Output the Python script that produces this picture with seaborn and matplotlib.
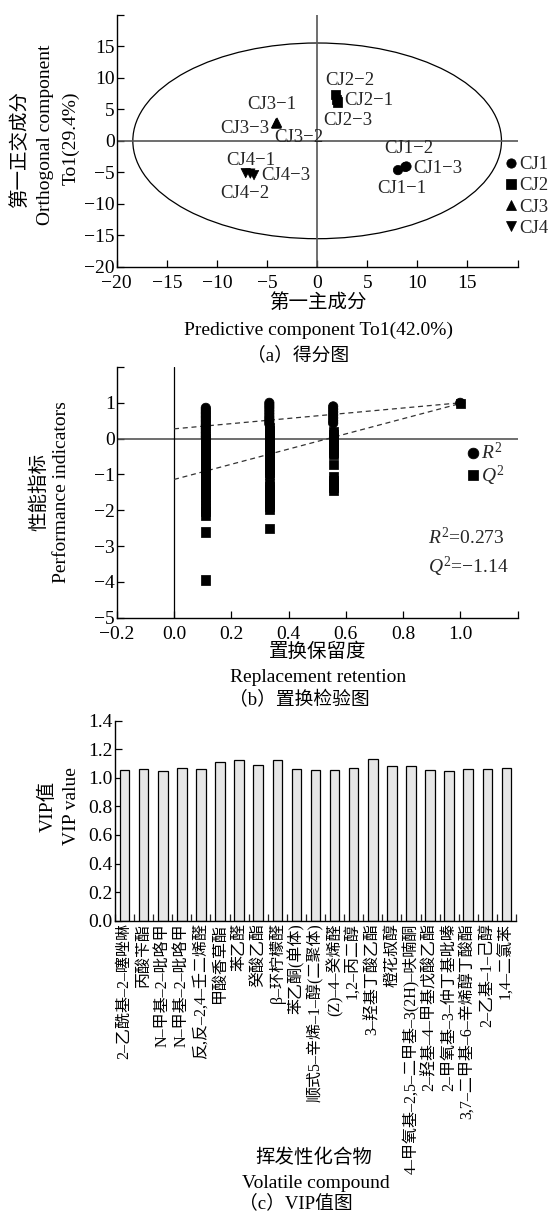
import numpy as np
import pandas as pd
import matplotlib
matplotlib.use("Agg")
import matplotlib.pyplot as plt
from matplotlib.patches import Ellipse
import seaborn as sns

# ---------------- data ----------------
# (a) OPLS-DA score plot
score_group = ["CJ1", "CJ1", "CJ1", "CJ2", "CJ2", "CJ2", "CJ3", "CJ3", "CJ3", "CJ4", "CJ4", "CJ4"]
score_name = ["CJ1−1", "CJ1−3", "CJ1−2", "CJ2−2", "CJ2−1", "CJ2−3",
              "CJ3−1", "CJ3−2", "CJ3−3", "CJ4−1", "CJ4−3", "CJ4−2"]
score_t1 = [8.07, 8.92, 8.80, 1.83, 1.95, 2.00, -4.10, -4.00, -4.05, -7.13, -6.30, -6.67]
score_to1 = [-4.65, -4.07, -4.15, 7.37, 6.60, 6.19, 2.80, 2.90, 2.75, -5.13, -5.45, -5.20]
t2_width, t2_height = 36.8, 31.1

# (b) permutation test
perm_ret_r2 = [0.111] * 16 + [0.333] * 9 + [0.556] * 7 + [1.0]
perm_r2 = [0.86, 0.80, 0.74, 0.69, 0.63, 0.58, 0.52, 0.47, 0.41, 0.36, 0.30, 0.25, 0.19, 0.14, 0.08, 0.03,
           1.00, 0.93, 0.86, 0.78, 0.70, 0.62, 0.55, 0.48, 0.41,
           0.90, 0.82, 0.74, 0.66, 0.58, 0.50, 0.43,
           1.00]
perm_ret_q2 = [0.111] * 27 + [0.333] * 28 + [0.556] * 15 + [1.0]
perm_q2 = [0.00, -0.08, -0.17, -0.25, -0.34, -0.42, -0.51, -0.59, -0.68, -0.76, -0.85, -0.93, -1.02,
           -1.10, -1.19, -1.27, -1.36, -1.44, -1.53, -1.61, -1.70, -1.86, -1.95, -2.04, -2.14, -2.61, -3.95,
           0.30, 0.22, 0.14, 0.06, -0.03, -0.11, -0.19, -0.27, -0.36, -0.44, -0.52, -0.60, -0.68, -0.77,
           -0.85, -0.93, -1.01, -1.26, -1.34, -1.42, -1.50, -1.58, -1.66, -1.74, -1.82, -1.90, -1.97, -2.50,
           0.20, 0.12, 0.04, -0.05, -0.13, -0.21, -0.29, -0.37, -0.45, -0.72, -1.07, -1.17, -1.27, -1.36, -1.43,
           0.98]
r2_intercept, q2_intercept = 0.273, -1.14

# (c) VIP values
compounds = ["2–乙酰基–2–噻唑啉", "丙酸苄酯", "N–甲基–2–吡咯甲", "N–甲基–2–吡咯甲",
             "反,反–2,4–壬二烯醛", "甲酸香草酯", "苯乙醛", "癸酸乙酯", "β–环柠檬醛",
             "苯乙酮(单体)", "顺式5–辛烯–1–醇(二聚体)", "(Z)–4–癸烯醛", "1,2–丙二醇",
             "3–羟基丁酸乙酯", "橙花叔醇", "4–甲氧基–2,5–二甲基–3(2H)–呋喃酮",
             "2–羟基–4–甲基戊酸乙酯", "2–甲氧基–3–仲丁基吡嗪", "3,7–二甲基–6–辛烯醇丁酸酯",
             "2–乙基–1–己醇", "1,4–二氯苯"]
vip = [1.055, 1.059, 1.048, 1.071, 1.059, 1.108, 1.122, 1.092, 1.127, 1.064, 1.055,
       1.055, 1.069, 1.132, 1.085, 1.085, 1.052, 1.050, 1.062, 1.064, 1.069]

# ---------------- style ----------------
sns.set_theme(style="white")
FAM = ["Liberation Serif", "Noto Sans CJK SC"]
plt.rcParams["font.family"] = FAM
plt.rcParams["mathtext.fontset"] = "custom"
plt.rcParams["mathtext.rm"] = "Liberation Serif"
plt.rcParams["mathtext.it"] = "Liberation Serif:italic"
plt.rcParams["axes.unicode_minus"] = True

W, H = 555, 1221
fig = plt.figure(figsize=(W / 100, H / 100), dpi=100)


def box(l, t, r, b):
    return [l / W, 1 - b / H, (r - l) / W, (b - t) / H]


def ftext(x, y, s, size=14, rot=0):
    fig.text(x / W, 1 - y / H, s, fontsize=size, rotation=rot, ha="center", va="center",
             family=FAM, color="black")


def style_axes(ax, xpad=4):
    sns.despine(ax=ax)
    for s in ["left", "bottom"]:
        ax.spines[s].set_color("black")
        ax.spines[s].set_linewidth(1.0)
    ax.tick_params(direction="in", length=5, width=0.9, colors="black", labelsize=14,
                   left=True, bottom=True)
    ax.tick_params(axis="y", pad=1.5)
    ax.tick_params(axis="x", pad=xpad)


# ---------------- (a) ----------------
ax1 = fig.add_axes(box(116.8, 15, 517.5, 266.7))
df_a = pd.DataFrame({"t1": score_t1, "to1": score_to1, "group": score_group})
sns.scatterplot(data=df_a, x="t1", y="to1", style="group",
                markers={"CJ1": "o", "CJ2": "s", "CJ3": "^", "CJ4": "v"},
                color="black", edgecolor="black", s=45, ax=ax1, zorder=3)
ax1.add_patch(Ellipse((0, 0), t2_width, t2_height, fill=False, ec="black", lw=0.9))
ax1.axhline(0, color="#555555", lw=1.2, zorder=1)
ax1.axvline(0, color="#555555", lw=1.2, zorder=1)
ax1.set_xlim(-20, 20)
ax1.set_ylim(-20, 20)
ax1.set_xticks(np.arange(-20, 21, 5))
ax1.set_xticklabels([f"{v}".replace("-", "−") for v in range(-20, 16, 5)] + [""])
ax1.set_yticks(np.arange(-20, 21, 5))
ax1.set_yticklabels([f"{v}".replace("-", "−") for v in range(-20, 16, 5)] + [""])
ax1.set_xlabel("")
ax1.set_ylabel("")
style_axes(ax1, xpad=6)
label_pos = {"CJ1−1": (6.04, -7.59), "CJ1−2": (6.67, -1.29), "CJ1−3": (9.55, -4.33),
             "CJ2−1": (2.7, 6.46), "CJ2−2": (0.8, 9.66), "CJ2−3": (0.6, 3.25),
             "CJ3−1": (-6.95, 5.76), "CJ3−2": (-4.3, 0.58), "CJ3−3": (-9.7, 2.0),
             "CJ4−1": (-9.1, -3.05), "CJ4−2": (-9.7, -8.4), "CJ4−3": (-5.55, -5.45)}
for name in score_name:
    lx, ly = label_pos[name]
    ax1.text(lx, ly, name, fontsize=13.5, ha="left", va="center", zorder=4)
sns.move_legend(ax1, loc="upper left", bbox_to_anchor=(0.972, 0.44), frameon=False, title=None,
                fontsize=13.5, handletextpad=0.2, labelspacing=0.22, borderpad=0,
                handlelength=0.5, borderaxespad=0)

ftext(19.5, 149, "第一正交成分", rot=90)
ftext(46, 135, "Orthogonal component", rot=90)
ftext(71, 138, "To1(29.4%)", rot=90)
ftext(318, 303, "第一主成分")
ftext(318, 330, "Predictive component To1(42.0%)")
ftext(298, 355, "（a）得分图", size=13.5)

# ---------------- (b) ----------------
ax2 = fig.add_axes(box(116.8, 367, 517.5, 617.7))
df_b = pd.concat([
    pd.DataFrame({"ret": perm_ret_r2, "val": perm_r2, "ind": "R2"}),
    pd.DataFrame({"ret": perm_ret_q2, "val": perm_q2, "ind": "Q2"}),
], ignore_index=True)
sns.scatterplot(data=df_b, x="ret", y="val", style="ind", markers={"R2": "o", "Q2": "s"},
                color="black", edgecolor="black", s=45, ax=ax2, zorder=3)
ax2.plot([0, 1], [r2_intercept, perm_r2[-1]], ls=(0, (4, 3)), color="#333333", lw=0.9, zorder=2)
ax2.plot([0, 1], [q2_intercept, perm_q2[-1]], ls=(0, (4, 3)), color="#333333", lw=0.9, zorder=2)
ax2.axhline(0, color="#555555", lw=1.2, zorder=1)
ax2.axvline(0, color="black", lw=0.9, zorder=1)
ax2.set_xlim(-0.2, 1.2)
ax2.set_ylim(-5, 2)
xt = [-0.2, 0.0, 0.2, 0.4, 0.6, 0.8, 1.0, 1.2]
ax2.set_xticks(xt)
ax2.set_xticklabels([f"{v:.1f}".replace("-", "−") for v in xt[:-1]] + [""])
yt = list(range(-5, 3))
ax2.set_yticks(yt)
ax2.set_yticklabels([f"{v}".replace("-", "−") for v in yt[:-1]] + [""])
ax2.set_xlabel("")
ax2.set_ylabel("")
style_axes(ax2, xpad=6)
h, l = ax2.get_legend_handles_labels()
ax2.legend(h, [r"$R^2$", r"$Q^2$"], loc="upper left", bbox_to_anchor=(0.876, 0.70),
           frameon=False, fontsize=14, handletextpad=0.2, labelspacing=0.0, borderpad=0,
           handlelength=0.5, borderaxespad=0, markerscale=1.15)
ax2.text(0.889, -2.75, r"$R^2$=0.273", fontsize=14, ha="left", va="center")
ax2.text(0.889, -3.58, r"$Q^2$=−1.14", fontsize=14, ha="left", va="center")

ftext(39, 492, "性能指标", rot=90)
ftext(62, 492, "Performance indicators", rot=90)
ftext(318, 652, "置换保留度")
ftext(318, 677, "Replacement retention")
ftext(299, 700, "（b）置换检验图", size=13.5)

# ---------------- (c) ----------------
ax3 = fig.add_axes(box(115, 720.7, 516, 920.7))
df_c = pd.DataFrame({"compound": [f"{i}" for i in range(len(compounds))], "vip": vip})
sns.barplot(data=df_c, x="compound", y="vip", color="#e6e6e6", saturation=1,
            edgecolor="black", linewidth=0.9, width=0.5, ax=ax3)
ax3.set_xlim(-0.5, len(compounds) - 0.5)
ax3.set_ylim(0, 1.4)
ax3.set_yticks(np.arange(0, 1.41, 0.2))
ax3.set_yticklabels([f"{v:.1f}" for v in np.arange(0, 1.41, 0.2)])
ax3.set_xlabel("")
ax3.set_ylabel("")
style_axes(ax3)
ax3.set_xticks(range(len(compounds)))
ax3.set_xticklabels(compounds, rotation=90, fontsize=11.5, va="top", ha="center")
ax3.tick_params(axis="x", which="major", length=0, pad=2)
ax3.set_xticks(np.arange(-0.5, len(compounds), 1), minor=True)
ax3.tick_params(axis="x", which="minor", direction="in", length=5, width=0.9, bottom=True)

ftext(48, 806, "VIP值", rot=90)
ftext(71, 806, "VIP value", rot=90)
ftext(314, 1158, "挥发性化合物")
ftext(316, 1183, "Volatile compound")
ftext(296, 1203, "（c）VIP值图", size=13.5)

fig.savefig("out.png", dpi=100, facecolor="white")
